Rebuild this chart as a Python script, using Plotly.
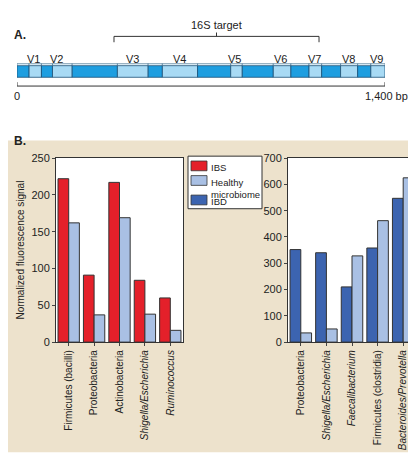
import plotly.graph_objects as go

W, H = 416, 455
# Part A: 16S gene region boundaries (bp)
bounds_bp = [0, 46, 93, 135, 210, 382, 499, 553, 687, 813, 857, 975, 1042, 1111, 1159, 1231, 1296, 1346, 1400]
var_labels = ["V1", "V2", "V3", "V4", "V5", "V6", "V7", "V8", "V9"]
var_pos_bp = [63, 150, 438, 617, 826, 1003, 1130, 1263, 1367]
target_bp = [369, 1149]

# Part B data
left_cats = ["Firmicutes (bacilli)", "Proteobacteria", "Actinobacteria", "<i>Shigella/Escherichia</i>", "<i>Ruminococcus</i>"]
left_ibs = [222, 91, 217, 84, 60]
left_healthy = [162, 37, 169, 38, 16]
right_cats = ["Proteobacteria", "<i>Shigella/Escherichia</i>", "<i>Faecalibacterium</i>", "Firmicutes (clostridia)", "<i>Bacteroides/Prevotella</i>"]
right_ibd = [352, 340, 210, 358, 547]
right_healthy = [35, 50, 328, 462, 625]
legend_names = ["IBS", "Healthy<br>microbiome", "IBD"]

RED, LB, DB = "#e4202a", "#a9c0e4", "#3c64b0"
line = dict(color="#333", width=1)
fig = go.Figure()
fig.add_bar(x=left_cats, y=left_ibs, name="IBS", marker=dict(color=RED, line=line), xaxis="x", yaxis="y")
fig.add_bar(x=left_cats, y=left_healthy, name="Healthy", marker=dict(color=LB, line=line), xaxis="x", yaxis="y")
fig.add_bar(x=right_cats, y=right_ibd, name="IBD", marker=dict(color=DB, line=line), xaxis="x2", yaxis="y2")
fig.add_bar(x=right_cats, y=right_healthy, name="Healthy", marker=dict(color=LB, line=line), xaxis="x2", yaxis="y2")

def px(x): return x / W
def py(y): return 1 - y / H

shapes = []
shapes.append(dict(type="rect", xref="paper", yref="paper", x0=0, x1=1, y0=py(450), y1=py(130),
                   fillcolor="#ede2cc", line=dict(width=0), layer="below"))
for (a, b) in [(48, 175), (280, 408)]:
    shapes.append(dict(type="rect", xref="paper", yref="paper", x0=px(a), x1=px(b), y0=py(337), y1=py(148),
                       fillcolor="white", line=dict(width=0), layer="below"))
for i in range(len(bounds_bp) - 1):
    c = "#1e9ee0" if i % 2 == 0 else "#a8daf4"
    shapes.append(dict(type="rect", xref="x3", yref="y3", x0=bounds_bp[i], x1=bounds_bp[i + 1], y0=53, y1=65,
                       fillcolor=c, line=dict(color="#1a4f75", width=0.8)))
    shapes.append(dict(type="rect", xref="x3", yref="y3", x0=bounds_bp[i], x1=bounds_bp[i + 1], y0=51, y1=53,
                       fillcolor="#e6f5fc", line=dict(color="#1a4f75", width=0.5)))
L = dict(color="#333", width=1)
shapes += [dict(type="line", xref="x3", yref="y3", x0=0, x1=1400, y0=74, y1=74, line=L),
           dict(type="line", xref="x3", yref="y3", x0=0, x1=0, y0=70, y1=74, line=L),
           dict(type="line", xref="x3", yref="y3", x0=1400, x1=1400, y0=70, y1=74, line=L)]
mid = sum(target_bp) / 2
shapes += [dict(type="line", xref="x3", yref="y3", x0=target_bp[0], x1=target_bp[1], y0=23, y1=23, line=L),
           dict(type="line", xref="x3", yref="y3", x0=target_bp[0], x1=target_bp[0], y0=23, y1=29, line=L),
           dict(type="line", xref="x3", yref="y3", x0=target_bp[1], x1=target_bp[1], y0=23, y1=29, line=L),
           dict(type="line", xref="x3", yref="y3", x0=mid, x1=mid, y0=19, y1=23, line=L)]

# manual legend
shapes.append(dict(type="rect", xref="paper", yref="paper", x0=px(180), x1=px(254), y0=py(200), y1=py(146),
                   fillcolor="white", line=dict(color="#333", width=1)))
ann = []
for (name, col, yc) in zip(legend_names, [RED, LB, DB], [156, 171, 191]):
    shapes.append(dict(type="rect", xref="paper", yref="paper", x0=px(183), x1=px(199), y0=py(yc + 5), y1=py(yc - 5),
                       fillcolor=col, line=dict(color="#333", width=0.8)))
    ty = yc + 5 if "<br>" in name else yc
    ann.append(dict(text=name, x=px(201), y=py(yc - 6), xref="paper", yref="paper", showarrow=False,
                    xanchor="left", yanchor="top", align="left", font=dict(size=9.5)))

ann += [dict(text=v, x=p, y=46, xref="x3", yref="y3", showarrow=False, font=dict(size=11)) for v, p in zip(var_labels, var_pos_bp)]
ann += [dict(text="16S target", x=mid, y=11, xref="x3", yref="y3", showarrow=False, font=dict(size=11)),
        dict(text="0", x=0, y=84, xref="x3", yref="y3", showarrow=False, font=dict(size=11)),
        dict(text="1,400 bp", x=1400, y=84, xref="x3", yref="y3", showarrow=False, xanchor="left", xshift=-22, font=dict(size=11)),
        dict(text="<b>A.</b>", x=px(4), y=py(12), xref="paper", yref="paper", showarrow=False, xanchor="left", font=dict(size=12)),
        dict(text="<b>B.</b>", x=px(4), y=py(121), xref="paper", yref="paper", showarrow=False, xanchor="left", font=dict(size=12))]

ax = dict(showline=True, linecolor="#333", mirror=True, ticks="outside", ticklen=3, tickfont=dict(size=11, color="#222"))
fig.update_layout(
    width=W, height=H, margin=dict(l=0, r=0, t=0, b=0),
    paper_bgcolor="white", plot_bgcolor="rgba(0,0,0,0)", showlegend=False,
    font=dict(family="Liberation Sans, Arial", color="#222"),
    barmode="group", bargap=0.16, bargroupgap=0,
    shapes=shapes, annotations=ann,
    xaxis=dict(domain=[px(48), px(175)], tickangle=-90, **ax, tickfont_size=10),
    yaxis=dict(domain=[py(337), py(148)], range=[0, 250], dtick=50, anchor="x",
               title=dict(text="Normalized fluorescence signal", font=dict(size=10), standoff=4), **ax),
    xaxis2=dict(domain=[px(280), px(408)], anchor="y2", tickangle=-90, **ax, tickfont_size=10),
    yaxis2=dict(domain=[py(337), py(148)], range=[0, 700], dtick=100, anchor="x2", **ax),
    xaxis3=dict(domain=[px(9), px(377)], range=[0, 1400], anchor="y3", visible=False),
    yaxis3=dict(domain=[py(113.75), 1], range=[113.75, 0], anchor="x3", visible=False),
)
fig.write_html("out.html")
